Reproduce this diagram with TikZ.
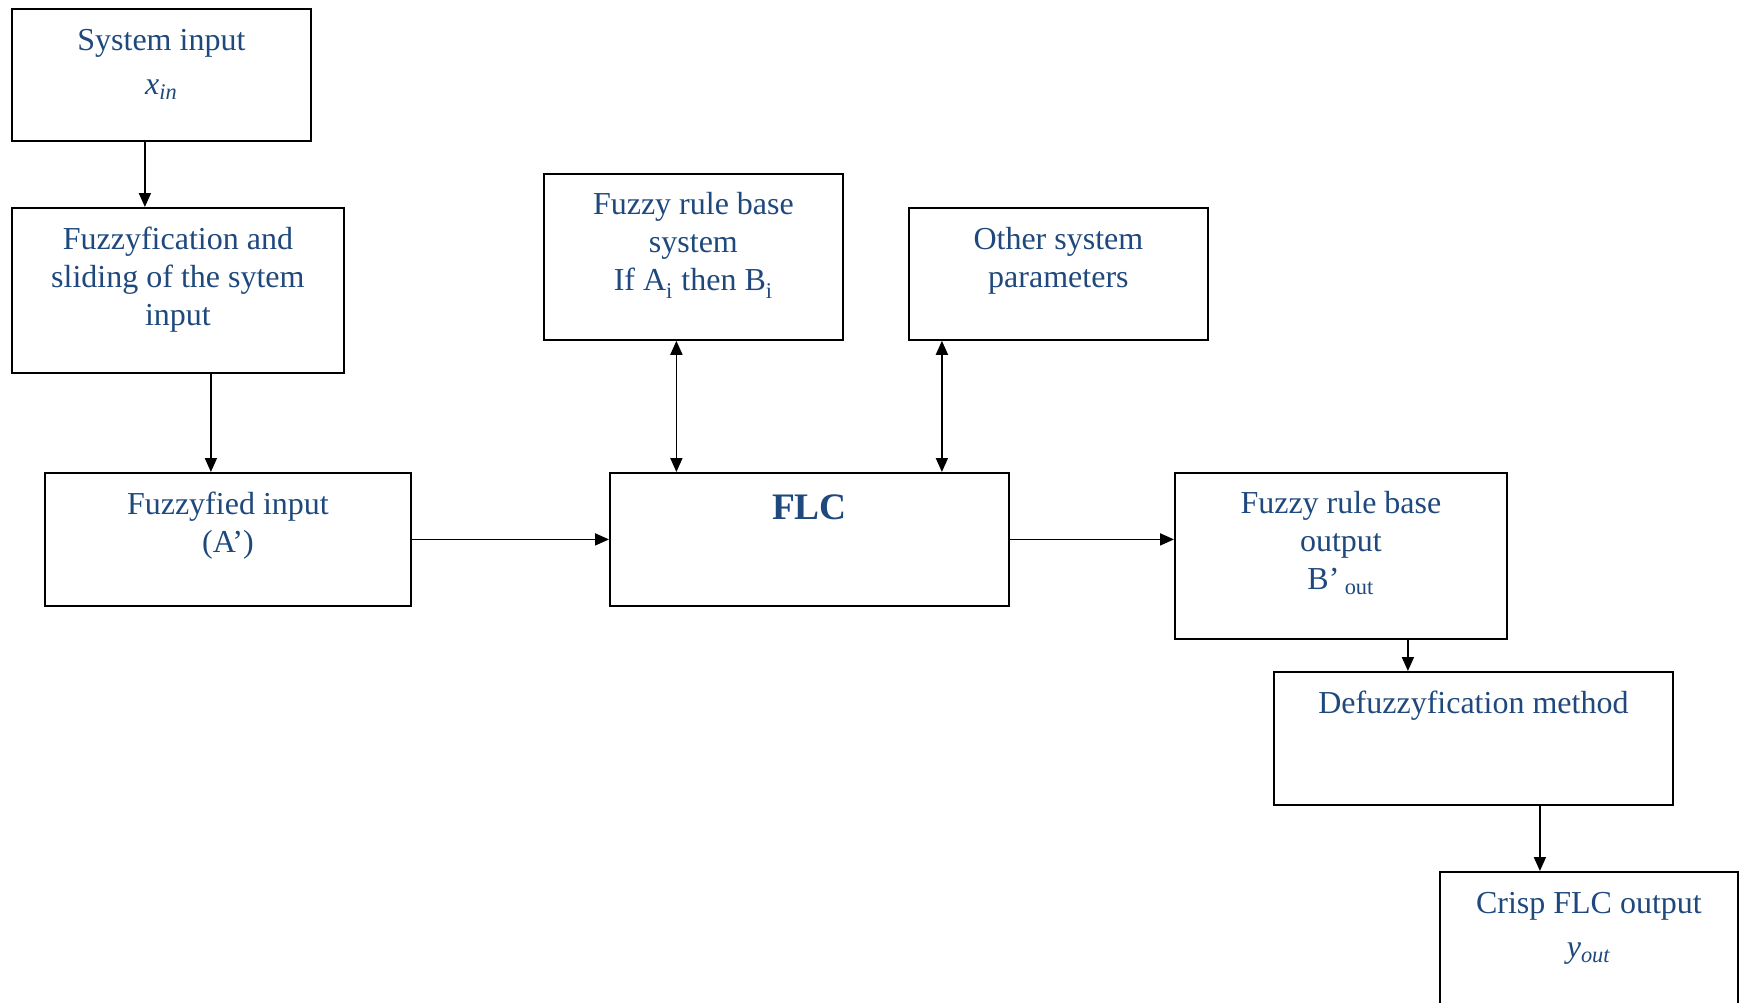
\documentclass[tikz,border=0pt]{standalone}
\usepackage{fontspec}
\setmainfont{Liberation Serif}
\usetikzlibrary{arrows.meta}
\definecolor{txtblue}{RGB}{31,73,125}
\tikzset{
	blk/.style={draw=black, line width=0.9pt, rectangle, inner sep=0pt, anchor=north west},
	lbl/.style={anchor=base, align=center, text=txtblue, inner sep=0pt, font=\fontsize{16}{19.2}\selectfont},
	arr/.style={line width=0.9pt, -{Triangle[length=7pt,width=6pt]}},
	dblarr/.style={line width=0.9pt, {Triangle[length=7pt,width=6pt]}-{Triangle[length=7pt,width=6pt]}}
}
\begin{document}
\begin{tikzpicture}[x=0.5pt, y=-0.5pt]
	\useasboundingbox (0,0) rectangle (1743,1002);
	
	% boxes
	\node[blk, minimum width=149.5pt, minimum height=66pt] (sys) at (11,8) {};
	\node[blk, minimum width=166pt, minimum height=82.5pt] (fuz) at (11,207) {};
	\node[blk, minimum width=183pt, minimum height=66.5pt] (fzd) at (44,472) {};
	\node[blk, minimum width=149.5pt, minimum height=83pt] (rule) at (543,173) {};
	\node[blk, minimum width=149.5pt, minimum height=66pt] (other) at (908,207) {};
	\node[blk, minimum width=199.5pt, minimum height=66.5pt] (flc) at (609,472) {};
	\node[blk, minimum width=166pt, minimum height=83pt] (rout) at (1174,472) {};
	\node[blk, minimum width=199.5pt, minimum height=66.5pt] (defz) at (1273,671) {};
	\node[blk, minimum width=149pt, minimum height=70pt] (crisp) at (1439,871) {};
	
	% texts (anchored at the baseline of their last line)
	\node[lbl] (t-sys) at ([yshift=-43pt]sys.north) {System input\\[2.8pt]\textit{x}\textsubscript{\textit{in}}};
	\node[lbl] (t-fuz) at ([yshift=-59.4pt]fuz.north) {Fuzzyfication and\\sliding of the sytem\\input};
	\node[lbl] (t-fzd) at ([yshift=-40.2pt]fzd.north) {Fuzzyfied input\\(A’)};
	\node[lbl] (t-rule) at ([yshift=-58.9pt]rule.north) {Fuzzy rule base\\system\\If A\textsubscript{\raisebox{-1.2pt}{i}} then B\textsubscript{\raisebox{-1.2pt}{i}}};
	\node[lbl] (t-other) at ([yshift=-40.2pt]other.north) {Other system\\parameters};
	\node[lbl, font=\bfseries\fontsize{18.7}{22}\selectfont] (t-flc) at ([yshift=-23.5pt]flc.north) {FLC};
	\node[lbl] (t-rout) at ([yshift=-58.9pt]rout.north) {Fuzzy rule base\\output\\B’\,\textsubscript{out}};
	\node[lbl] (t-defz) at ([yshift=-21pt]defz.north) {Defuzzyfication method};
	\node[lbl] (t-crisp) at ([yshift=-43pt]crisp.north) {Crisp FLC output\\[2.8pt]\textit{y}\textsubscript{\textit{out}}};
	
	% connectors
	\draw[arr] ([xshift=-8.25pt]sys.south) -- ([xshift=-8.25pt]sys.south |- fuz.north);
	\draw[arr] ([xshift=16.5pt]fuz.south) -- ([xshift=16.5pt]fuz.south |- fzd.north);
	\draw[arr] (fzd.east) -- (fzd.east -| flc.west);
	\draw[dblarr] ([xshift=-8.5pt]rule.south) -- ([xshift=-8.5pt]rule.south |- flc.north);
	\draw[dblarr] ([xshift=-58.25pt]other.south) -- ([xshift=-58.25pt]other.south |- flc.north);
	\draw[arr] (flc.east) -- (flc.east -| rout.west);
	\draw[arr] ([xshift=33.5pt]rout.south) -- ([xshift=33.5pt]rout.south |- defz.north);
	\draw[arr] ([xshift=33.25pt]defz.south) -- ([xshift=33.25pt]defz.south |- crisp.north);
	
\end{tikzpicture}
\end{document}
